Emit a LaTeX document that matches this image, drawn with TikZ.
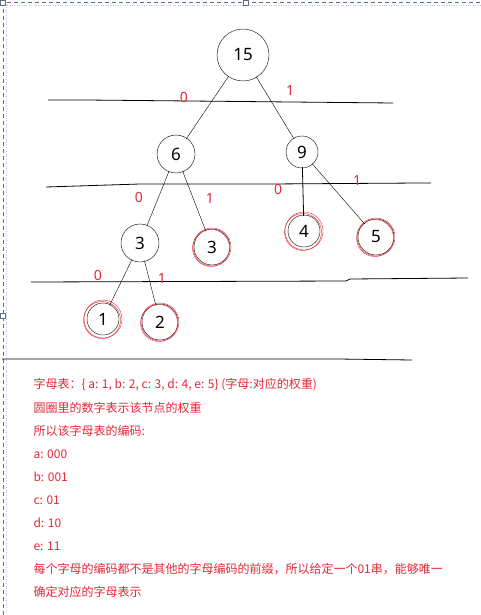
\documentclass[tikz,border=0pt]{standalone}
\usepackage{fontspec}
\setmainfont{Noto Sans}
\newfontfamily\cjk{Noto Sans CJK SC}
\definecolor{rosso}{RGB}{228,40,56}
\definecolor{bordo}{RGB}{96,112,132}
\begin{document}
\begin{tikzpicture}[x=1pt, y=-1pt,
    nodo/.style={draw, circle, inner sep=0pt, font=\fontsize{17}{19}\selectfont},
    foglia/.style={nodo},
    arco/.style={shorten <=-1pt, shorten >=-1pt},
    bit/.style={text=rosso, font=\fontsize{14}{16}\selectfont},
    riga/.style={anchor=west, text=rosso, font=\cjk\fontsize{12}{14}\selectfont}]
    \useasboundingbox (0,0) rectangle (481,615);
    % Cornice tratteggiata
    \draw[bordo, dashed, dash pattern=on 4pt off 3pt] (0,2) -- (481,2);
    \draw[bordo, dashed, dash pattern=on 4pt off 3pt] (3,2) -- (3,615);
    \draw[blue!25, dotted] (0,5) -- (481,5);
    \draw[blue!25, dotted] (6,5) -- (6,615);
    \foreach \p in {(3,3), (246,3), (3,316)}
        \draw[bordo, fill=white] \p +(-2.5,-2.5) rectangle +(2.5,2.5);
    % Righe orizzontali
    \draw[thick] (48,100) -- (86,100) -- (190,101) -- (393,103);
    \draw[thick] (46,187) -- (140,184) -- (270,184) -- (420,183) -- (431,183);
    \draw[thick] (31,282) -- (346,281) -- (350,279) -- (468,278);
    \draw[thick] (2,359) -- (338,359) -- (412,360);
    % Nodi interni
    \node[nodo, minimum size=52pt] (radice) at (243,55) {15};
    \node[nodo, minimum size=38pt] (sei) at (176,154) {6};
    \node[nodo, minimum size=32pt] (nove) at (302,152) {9};
    \node[nodo, minimum size=38pt] (tre) at (140,243) {3};
    % Foglie
    \node[foglia, minimum size=36pt] (c) at (212,247) {3};
    \node[foglia, minimum size=32pt] (d) at (304,231) {4};
    \node[foglia, minimum size=36pt] (e) at (376,237) {5};
    \node[foglia, minimum size=32pt] (a) at (103,319) {1};
    \node[foglia, minimum size=36pt] (b) at (160,322) {2};
    % Cerchi rossi attorno alle foglie
    \foreach \f in {a, b, c, d, e} {
        \draw[rosso] (\f.center) circle (19pt);
        \draw[rosso] ([shift={(-1,1)}]\f.center) circle (18.5pt);
    }
    % Archi
    \draw[arco] (radice) -- (sei);
    \draw[arco] (radice) -- (nove);
    \draw[arco] (sei) -- (tre);
    \draw[arco] (sei) -- (c);
    \draw[arco, thick] (nove) -- (d);
    \draw[arco] (nove) -- (e);
    \draw[arco] (tre) -- (a);
    \draw[arco] (tre) -- (b);
    % Etichette 0/1
    \node[bit] (b1) at (184,97) {0};
    \node[bit] (b2) at (290,91) {1};
    \node[bit] (b3) at (139,197) {0};
    \node[bit] (b4) at (210,199) {1};
    \node[bit] (b5) at (278,189) {0};
    \node[bit] (b6) at (357,181) {1};
    \node[bit] (b7) at (98,275) {0};
    \node[bit] (b8) at (162,278) {1};
    % Testo
    \node[riga] (t1) at (30,385) {字母表：\{ a: 1, b: 2, c: 3, d: 4, e: 5\} (字母:对应的权重)};
    \node[riga] (t2) at (30,408) {圆圈里的数字表示该节点的权重};
    \node[riga] (t3) at (30,431) {所以该字母表的编码:};
    \node[riga] (t4) at (30,454) {a: 000};
    \node[riga] (t5) at (30,477) {b: 001};
    \node[riga] (t6) at (30,500) {c: 01};
    \node[riga] (t7) at (30,523) {d: 10};
    \node[riga] (t8) at (30,546) {e: 11};
    \node[riga] (t9) at (30,569) {每个字母的编码都不是其他的字母编码的前缀，所以给定一个01串，能够唯一};
    \node[riga] (t10) at (30,592) {确定对应的字母表示};
\end{tikzpicture}
\end{document}
